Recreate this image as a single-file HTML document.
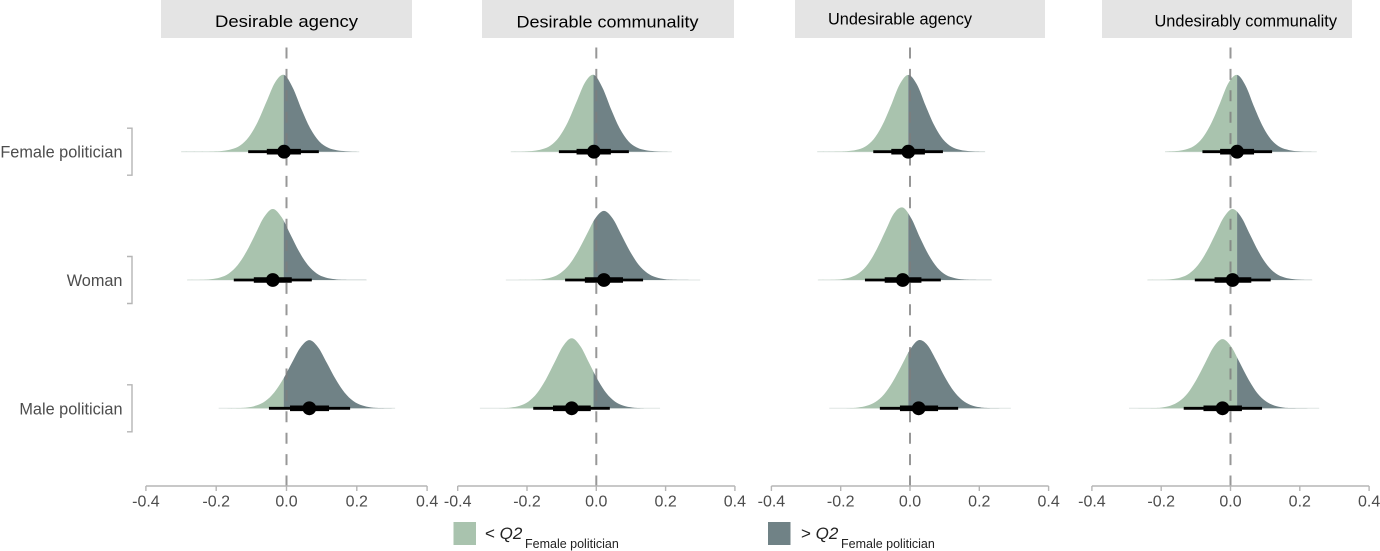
<!DOCTYPE html>
<html lang="en">
<head>
<meta charset="utf-8">
<title>Posterior densities by target and trait</title>
<style>
  html, body { margin: 0; padding: 0; background: #ffffff; }
  body { width: 1380px; height: 551px; overflow: hidden; }
  svg { display: block; font-family: "Liberation Sans", sans-serif; }
</style>
</head>
<body>
<svg id="chart" width="1380" height="551" viewBox="0 0 1380 551" xmlns="http://www.w3.org/2000/svg">
  <g>
    <rect x="161" y="0" width="251" height="38" fill="#e4e4e4"/>
    <rect x="482" y="0" width="252" height="38" fill="#e4e4e4"/>
    <rect x="795" y="0" width="250" height="38" fill="#e4e4e4"/>
    <rect x="1102" y="0" width="250" height="38" fill="#e4e4e4"/>
    <text x="215" y="27" font-size="17" fill="#000" textLength="143" lengthAdjust="spacingAndGlyphs">Desirable agency</text>
    <text x="516.5" y="27.3" font-size="17" fill="#000" textLength="182" lengthAdjust="spacingAndGlyphs">Desirable communality</text>
    <text x="828" y="24.5" font-size="17" fill="#000" textLength="144" lengthAdjust="spacingAndGlyphs">Undesirable agency</text>
    <text x="1154.5" y="26.7" font-size="17" fill="#000" textLength="182.5" lengthAdjust="spacingAndGlyphs">Undesirably communality</text>
  </g>
  <g id="panels"></g>
  <g id="row-axis"></g>
  <g>
    <g>
      <rect x="453.5" y="522" width="22.5" height="23" fill="#a9c3ae"/>
      <text x="485" y="539" font-size="17" fill="#222">&lt; <tspan font-style="italic">Q2</tspan></text>
      <text x="525" y="548" font-size="12.5" fill="#222">Female politician</text>
    </g>
    <g>
      <rect x="768" y="522" width="22.5" height="23" fill="#708286"/>
      <text x="801" y="539" font-size="17" fill="#222">&gt; <tspan font-style="italic">Q2</tspan></text>
      <text x="841" y="548" font-size="12.5" fill="#222">Female politician</text>
    </g>
  </g>
</svg>
<script>
// ---- chart data (in data units) ----
const rowLabels = ["Female politician", "Woman", "Male politician"];
const panelNames = ["desirable-agency", "desirable-communality", "undesirable-agency", "undesirably-communality"];
const xTickValues = [-0.4, -0.2, 0, 0.2, 0.4];
const xTickLabels = ["-0.4", "-0.2", "0.0", "0.2", "0.4"];

// Q2 of the female-politician posterior: where the fill colour changes
const splitValues = [-0.008, -0.008, -0.005, 0.019];

// point estimates, rows by panel
const means = [
  [-0.007, -0.039, 0.065],
  [-0.007, 0.022, -0.071],
  [-0.005, -0.021, 0.025],
  [0.019, 0.006, -0.023]
];
const lower95 = [
  [-0.109, -0.150, -0.050],
  [-0.108, -0.090, -0.182],
  [-0.106, -0.130, -0.087],
  [-0.081, -0.103, -0.135]
];
const upper95 = [
  [0.092, 0.072, 0.181],
  [0.094, 0.135, 0.039],
  [0.095, 0.089, 0.139],
  [0.120, 0.116, 0.091]
];
const lower66 = [
  [-0.056, -0.093, 0.010],
  [-0.057, -0.033, -0.125],
  [-0.054, -0.073, -0.029],
  [-0.030, -0.046, -0.078]
];
const upper66 = [
  [0.041, 0.015, 0.121],
  [0.042, 0.077, -0.016],
  [0.043, 0.033, 0.081],
  [0.068, 0.060, 0.033]
];
const tailLow = [
  [-0.300, -0.283, -0.193],
  [-0.247, -0.261, -0.336],
  [-0.268, -0.266, -0.233],
  [-0.189, -0.240, -0.293]
];
const tailHigh = [
  [0.207, 0.228, 0.309],
  [0.218, 0.300, 0.184],
  [0.217, 0.236, 0.291],
  [0.249, 0.236, 0.256]
];

// distance from the point estimate at which each density height was read
const densityOffsets = [-0.2, -0.175, -0.15, -0.125, -0.1, -0.075, -0.05, -0.025, 0, 0.025, 0.05, 0.075, 0.1, 0.125, 0.15, 0.175, 0.2];

const densityDesirableAgency = [
  [0.02, 0.08, 0.25, 0.65, 1.55, 3.1, 5.2, 7.25, 8.0, 6.65, 4.4, 2.4, 1.08, 0.42, 0.15, 0.05, 0.01],
  [0.02, 0.09, 0.26, 0.68, 1.55, 2.95, 4.75, 6.55, 7.4, 6.55, 4.75, 2.95, 1.55, 0.68, 0.26, 0.09, 0.02],
  [0.03, 0.1, 0.3, 0.76, 1.65, 3.02, 4.72, 6.35, 7.1, 6.35, 4.72, 3.02, 1.65, 0.76, 0.3, 0.1, 0.03]
];
const densityDesirableCommunality = [
  [0.02, 0.08, 0.25, 0.65, 1.55, 3.1, 5.2, 7.25, 8.0, 6.65, 4.4, 2.4, 1.08, 0.42, 0.15, 0.05, 0.01],
  [0.03, 0.09, 0.28, 0.73, 1.6, 3.0, 4.73, 6.42, 7.2, 6.42, 4.73, 3.0, 1.6, 0.73, 0.28, 0.09, 0.03],
  [0.02, 0.09, 0.27, 0.7, 1.58, 2.98, 4.74, 6.48, 7.3, 6.48, 4.74, 2.98, 1.58, 0.7, 0.27, 0.09, 0.02]
];
const densityUndesirableAgency = [
  [0.02, 0.06, 0.19, 0.52, 1.3, 2.75, 4.8, 7.0, 8.0, 7.0, 4.8, 2.75, 1.3, 0.52, 0.19, 0.06, 0.02],
  [0.02, 0.09, 0.28, 0.75, 1.68, 3.2, 5.1, 6.95, 7.55, 6.4, 4.4, 2.6, 1.28, 0.52, 0.2, 0.06, 0.02],
  [0.02, 0.08, 0.26, 0.66, 1.45, 2.75, 4.4, 6.1, 7.1, 6.6, 5.05, 3.3, 1.85, 0.88, 0.35, 0.12, 0.03]
];
const densityUndesirablyCommunality = [
  [0.02, 0.07, 0.22, 0.58, 1.43, 2.93, 5.0, 7.15, 8.0, 6.85, 4.6, 2.58, 1.19, 0.46, 0.17, 0.05, 0.01],
  [0.02, 0.09, 0.26, 0.68, 1.55, 2.95, 4.75, 6.55, 7.4, 6.55, 4.75, 2.95, 1.55, 0.68, 0.26, 0.09, 0.02],
  [0.03, 0.09, 0.28, 0.73, 1.6, 3.0, 4.73, 6.42, 7.2, 6.42, 4.73, 3.0, 1.6, 0.73, 0.28, 0.09, 0.03]
];
const densities = [densityDesirableAgency, densityDesirableCommunality, densityUndesirableAgency, densityUndesirablyCommunality];

// ---- axis functions ----
const NS = "http://www.w3.org/2000/svg";
const panelZero = [286.5, 596.3, 910, 1230.5];
const panelUnit = [351.5, 346.5, 346.5, 346.5];
function xScale(panel, value) { return panelZero[panel] + panelUnit[panel] * value; }
function rowBase(row) { return 151.7 + 128.3 * row; }
function densityY(row, density) { return rowBase(row) - 9.6 * density; }

const COL_LOW = "#a9c3ae", COL_HIGH = "#708286", COL_AXIS = "#b5b5b5", COL_TEXT = "#4d4d4d";
const AXIS_Y = 486, DASH_TOP = 47.5;

function make(tag, attrs, parent) {
  const el = document.createElementNS(NS, tag);
  for (const k in attrs) el.setAttribute(k, attrs[k]);
  parent.appendChild(el);
  return el;
}

function smoothPath(pts) {
  let d = "M" + pts[0][0].toFixed(2) + " " + pts[0][1].toFixed(2);
  for (let i = 0; i < pts.length - 1; i++) {
    const p0 = pts[Math.max(i - 1, 0)], p1 = pts[i], p2 = pts[i + 1], p3 = pts[Math.min(i + 2, pts.length - 1)];
    const c1x = p1[0] + (p2[0] - p0[0]) / 6, c1y = Math.min(p1[1] + (p2[1] - p0[1]) / 6, rowLimit);
    const c2x = p2[0] - (p3[0] - p1[0]) / 6, c2y = Math.min(p2[1] - (p3[1] - p1[1]) / 6, rowLimit);
    d += "C" + c1x.toFixed(2) + " " + c1y.toFixed(2) + " " + c2x.toFixed(2) + " " + c2y.toFixed(2) + " " + p2[0].toFixed(2) + " " + p2[1].toFixed(2);
  }
  return d;
}
let rowLimit = 0;

const panelsG = document.getElementById("panels");
const defs = make("defs", {}, document.getElementById("chart"));

panelNames.forEach(function (panelName, p) {
  const g = make("g", {}, panelsG);
  
  

  rowLabels.forEach(function (rowLabel, r) {
    const base = rowBase(r);
    const mean = means[p][r];
    const pts = [[xScale(p, tailLow[p][r]), base]];
    densityOffsets.forEach(function (off, i) {
      const v = mean + off;
      if (v > tailLow[p][r] && v < tailHigh[p][r]) pts.push([xScale(p, v), densityY(r, densities[p][r][i])]);
    });
    pts.push([xScale(p, tailHigh[p][r]), base]);
    rowLimit = base;
    const curve = smoothPath(pts) + "Z";
    const splitX = xScale(p, splitValues[p]);
    const slug = panelName + "-" + rowLabel.toLowerCase().replace(/ /g, "-");

    const tail = make("line", { x1: pts[0][0], x2: pts[pts.length - 1][0], y1: base, y2: base, stroke: "#dfe6e3", "stroke-width": 1 }, g);
    
    

    const clipLow = make("clipPath", { id: "low-" + p + "-" + r }, defs);
    make("rect", { x: 0, y: base - 100, width: splitX, height: 101 }, clipLow);
    const clipHigh = make("clipPath", { id: "high-" + p + "-" + r }, defs);
    make("rect", { x: splitX, y: base - 100, width: 1380 - splitX, height: 101 }, clipHigh);

    const low = make("path", { d: curve, fill: COL_LOW, "clip-path": "url(#low-" + p + "-" + r + ")" }, g);
    
    

    const high = make("path", { d: curve, fill: COL_HIGH, "clip-path": "url(#high-" + p + "-" + r + ")" }, g);
    
    
  });

  const zero = make("line", { x1: xScale(p, 0), x2: xScale(p, 0), y1: DASH_TOP, y2: AXIS_Y, stroke: "#7d7d7d", "stroke-opacity": 0.8, "stroke-width": 2, "stroke-dasharray": "11 10.4" }, g);
  
  

  rowLabels.forEach(function (rowLabel, r) {
    const base = rowBase(r);
    const slug = panelName + "-" + rowLabel.toLowerCase().replace(/ /g, "-");

    const thin = make("line", { x1: xScale(p, lower95[p][r]), x2: xScale(p, upper95[p][r]), y1: base, y2: base, stroke: "#000", "stroke-width": 2.8 }, g);
    
    

    const thick = make("line", { x1: xScale(p, lower66[p][r]), x2: xScale(p, upper66[p][r]), y1: base, y2: base, stroke: "#000", "stroke-width": 5.6 }, g);
    
    

    const dot = make("circle", { cx: xScale(p, means[p][r]), cy: base, r: 6.9, fill: "#000" }, g);
    
    
  });

  const axis = make("g", {}, g);
  
  

  const axisLine = make("line", { x1: xScale(p, xTickValues[0]), x2: xScale(p, xTickValues[xTickValues.length - 1]), y1: AXIS_Y, y2: AXIS_Y, stroke: COL_AXIS, "stroke-width": 1.4 }, axis);
  
  

  xTickValues.forEach(function (tick, i) {
    const tx = xScale(p, tick);
    const mark = make("line", { x1: tx, x2: tx, y1: AXIS_Y, y2: AXIS_Y + 5, stroke: COL_AXIS, "stroke-width": 1.4 }, axis);
    
    

    const label = make("text", { x: tx, y: 506.5, "text-anchor": "middle", "font-size": 16, fill: COL_TEXT }, axis);
    
    
    label.textContent = xTickLabels[i];
  });
});

const rowAxis = document.getElementById("row-axis");
rowLabels.forEach(function (rowLabel, r) {
  const base = rowBase(r);
  const bracket = make("path", { d: "M127 " + (base - 23.5) + "H132V" + (base + 23.5) + "H127", fill: "none", stroke: COL_AXIS, "stroke-width": 1.4 }, rowAxis);
  
  

  const label = make("text", { x: 122.5, y: base + 6, "text-anchor": "end", "font-size": 16.3, fill: COL_TEXT }, rowAxis);
  
  
  label.textContent = rowLabel;
});
</script>
</body>
</html>
